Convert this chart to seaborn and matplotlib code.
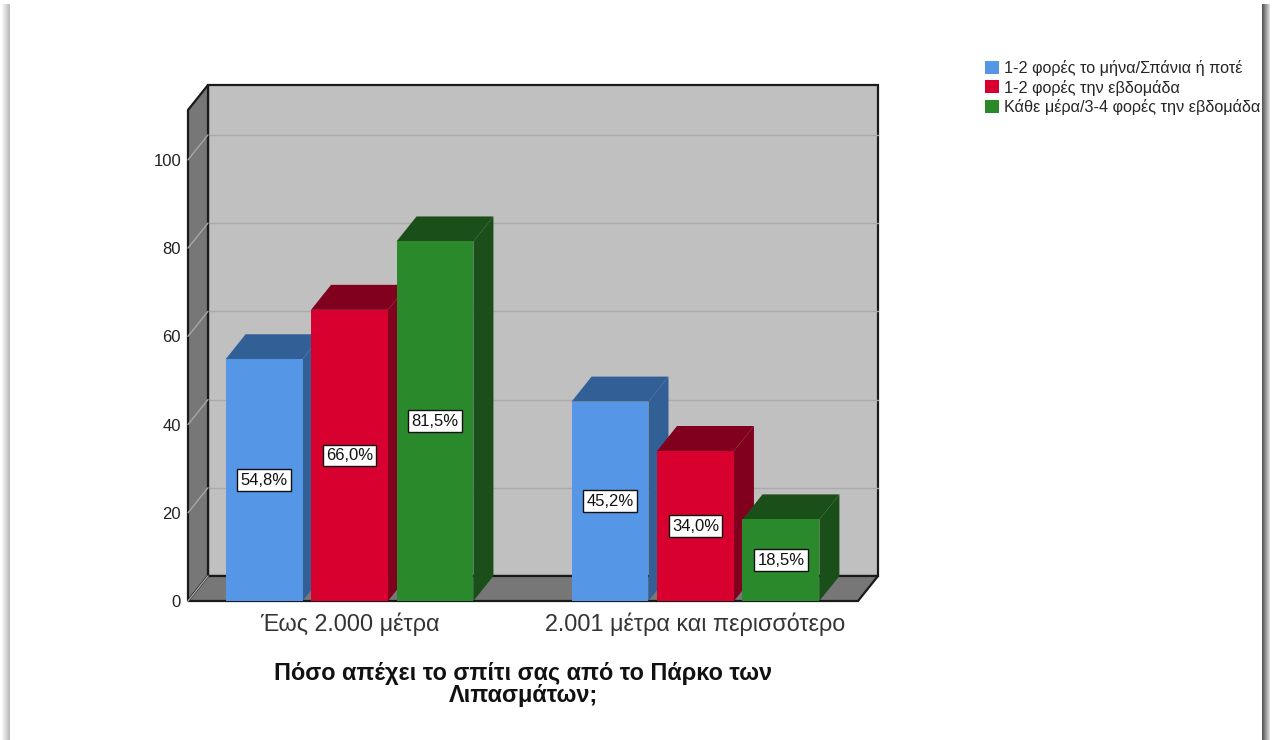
import matplotlib
matplotlib.use("Agg")
import matplotlib.pyplot as plt
import seaborn as sns
import pandas as pd
from matplotlib.patches import Polygon, Rectangle
from matplotlib.lines import Line2D

# ---- data ----
categories = ["Έως 2.000 μέτρα", "2.001 μέτρα και περισσότερο"]
groups = ["1-2 φορές το μήνα/Σπάνια ή ποτέ",
          "1-2 φορές την εβδομάδα",
          "Κάθε μέρα/3-4 φορές την εβδομάδα"]
pct_near = [54.8, 66.0, 81.5]
pct_far = [45.2, 34.0, 18.5]
y_ticks = [0, 20, 40, 60, 80, 100]
x_title = "Πόσο απέχει το σπίτι σας από το Πάρκο των\nΛιπασμάτων;"

front_colors = ["#5596e6", "#d7002e", "#2a892a"]
shade_colors = ["#335f97", "#80001e", "#1a4f1a"]

sns.set_theme(style="white")
plt.rcParams["font.family"] = ["Liberation Sans", "DejaVu Sans"]

values = [pct_near, pct_far]
df = pd.DataFrame({
    "distance": [c for g in groups for c in categories],
    "freq": [g for g in groups for c in categories],
    "pct": [values[ci][gi] for gi in range(len(groups)) for ci in range(len(categories))],
})

W, H = 1272, 740
fig = plt.figure(figsize=(W / 100, H / 100), dpi=100)
fig.patch.set_facecolor("white")

# front face of the plot box (pixel geometry converted to figure fractions)
left, right, bottom, top = 188, 858, 601, 110
ax = fig.add_axes([left / W, 1 - bottom / H, (right - left) / W, (bottom - top) / H])
ax.set_facecolor("none")

sns.barplot(data=df, x="distance", y="pct", hue="freq", order=categories,
            hue_order=groups, palette=front_colors, saturation=1,
            width=0.741, gap=0.1, linewidth=0, errorbar=None, ax=ax)

x_lo, x_hi = -0.4668, 1.4697
y_lo, y_hi = 0, 111.3
ax.set_xlim(x_lo, x_hi)
ax.set_ylim(y_lo, y_hi)

# depth of the box, in data units (20 px right, 25 px up)
dx = 20 / ((right - left) / (x_hi - x_lo))
dy = 25 / ((bottom - top) / (y_hi - y_lo))

wall = "#c0c0c0"
side = "#777777"
edge = "#1a1a1a"

# back wall
ax.add_patch(Rectangle((x_lo + dx, y_lo + dy), x_hi - x_lo, y_hi - y_lo,
                       facecolor=wall, edgecolor=edge, lw=1.6, zorder=0.5, clip_on=False))
# left wall
ax.add_patch(Polygon([(x_lo, y_lo), (x_lo, y_hi), (x_lo + dx, y_hi + dy), (x_lo + dx, y_lo + dy)],
                     closed=True, facecolor=side, edgecolor=edge, lw=1.6, zorder=0.7, clip_on=False))
# floor
ax.add_patch(Polygon([(x_lo, y_lo), (x_hi, y_lo), (x_hi + dx, y_lo + dy), (x_lo + dx, y_lo + dy)],
                     closed=True, facecolor=side, edgecolor=edge, lw=1.6, zorder=0.7, clip_on=False))

# grid lines on the back and left walls
for v in y_ticks:
    if v > 0:
        ax.add_line(Line2D([x_lo + dx, x_hi + dx], [v + dy, v + dy], color="#aaaaaa",
                           lw=1.0, zorder=0.6, clip_on=False))
    ax.add_line(Line2D([x_lo, x_lo + dx], [v, v + dy], color="#a6a6a6",
                       lw=1.0, zorder=0.8, clip_on=False))

# extrude bars into boxes; paint left to right so right-hand bars sit in front
bars = []
for hi, cont in enumerate(ax.containers):
    for rect in cont:
        bars.append((rect.get_x(), rect, hi))
bars.sort(key=lambda b: b[0])
for rank, (x0, rect, hi) in enumerate(bars):
    w = rect.get_width()
    h = rect.get_height()
    z = 3 + rank * 0.1
    rect.set_zorder(z + 0.05)
    shade = shade_colors[hi]
    ax.add_patch(Polygon([(x0 + w, 0), (x0 + w + dx, dy), (x0 + w + dx, h + dy), (x0 + w, h)],
                         closed=True, facecolor=shade, edgecolor="none", zorder=z, clip_on=False))
    ax.add_patch(Polygon([(x0, h), (x0 + w, h), (x0 + w + dx, h + dy), (x0 + dx, h + dy)],
                         closed=True, facecolor=shade, edgecolor="none", zorder=z, clip_on=False))
    label = f"{h:.1f}".replace(".", ",") + "%"
    ax.text(x0 + w / 2, h / 2, label, ha="center", va="center", fontsize=12,
            color="#111111", zorder=20,
            bbox=dict(boxstyle="square,pad=0.2", facecolor="white", edgecolor="#111111", lw=1))

for s in ax.spines.values():
    s.set_visible(False)
ax.set_yticks(y_ticks)
ax.set_yticklabels([str(t) for t in y_ticks], fontsize=12, color="#222222")
ax.tick_params(axis="y", length=0, pad=5)
ax.tick_params(axis="x", length=0, pad=8, labelsize=16.8, labelcolor="#333333")
ax.set_ylabel("")
ax.set_xlabel(x_title, fontsize=16.9, fontweight="bold", color="#111111",
              labelpad=19, linespacing=0.95)

sns.move_legend(ax, "upper left", bbox_to_anchor=(985 / W, 1 - 60 / H),
                bbox_transform=fig.transFigure, frameon=False, title=None,
                fontsize=11.7, handlelength=0.85, handleheight=0.85,
                handletextpad=0.3, labelspacing=0.22, borderpad=0, borderaxespad=0)

# soft shadow along the left and right edges of the page
for i in range(8):
    a = 0.5 * (1 - i / 8)
    fig.add_artist(Rectangle(((9 - i) / W, 0), 1 / W, 1 - 4 / H, transform=fig.transFigure,
                             facecolor="#555555", alpha=a * 0.8, edgecolor="none"))
    fig.add_artist(Rectangle(((1262 + i) / W, 0), 1 / W, 1 - 4 / H, transform=fig.transFigure,
                             facecolor="#444444", alpha=0.9 * (1 - i / 9), edgecolor="none"))

fig.savefig("out.png", dpi=100, facecolor="white")
